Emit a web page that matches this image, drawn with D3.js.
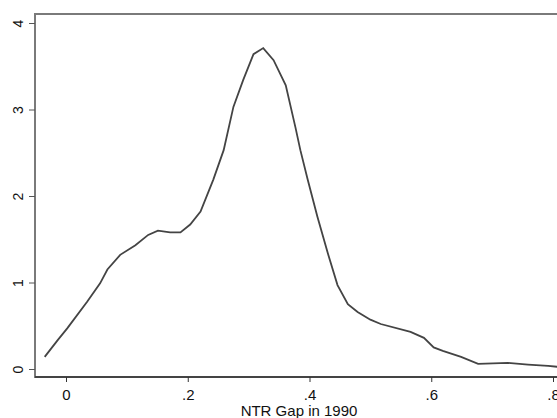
<!DOCTYPE html>
<html>
<head>
<meta charset="utf-8">
<script src="https://cdn.jsdelivr.net/npm/d3@7"></script>
<style>
  body { margin: 0; background: #fff; }
  text { font-family: "Liberation Sans", Arial, sans-serif; }
</style>
</head>
<body>
<script>
// Density of NTR gap
const gap = [-0.035, -0.013, 0.002, 0.035, 0.056, 0.068, 0.089, 0.114, 0.135, 0.151, 0.171, 0.188,
  0.204, 0.221, 0.242, 0.259, 0.275, 0.291, 0.308, 0.324, 0.341, 0.361, 0.377, 0.385, 0.397,
  0.413, 0.430, 0.446, 0.463, 0.479, 0.500, 0.517, 0.566, 0.588, 0.604, 0.619, 0.649, 0.677,
  0.726, 0.759, 0.792, 0.808];
const density = [0.14, 0.34, 0.47, 0.78, 0.99, 1.15, 1.32, 1.43, 1.55, 1.60, 1.58, 1.58,
  1.67, 1.82, 2.19, 2.53, 3.03, 3.34, 3.64, 3.71, 3.57, 3.28, 2.79, 2.53, 2.19,
  1.76, 1.34, 0.97, 0.75, 0.66, 0.57, 0.52, 0.43, 0.36, 0.25, 0.21, 0.14, 0.06,
  0.07, 0.05, 0.035, 0.025];
const xTicks = [0, 0.2, 0.4, 0.6, 0.8];
const xTickLabels = ["0", ".2", ".4", ".6", ".8"];
const yTicks = [0, 1, 2, 3, 4];

const W = 557, H = 418;
const svg = d3.select("body").append("svg")
    .attr("width", W)
    .attr("height", H);

const frame = { left: 35, top: 14, right: 566, bottom: 377 };

const x = d3.scaleLinear().domain([0, 0.8]).range([66, 553]);
const y = d3.scaleLinear().domain([0, 4]).range([369, 23]);

// plot region frame
svg.append("rect")
    .attr("x", frame.left)
    .attr("y", frame.top)
    .attr("width", frame.right - frame.left)
    .attr("height", frame.bottom - frame.top)
    .attr("fill", "none")
    .attr("stroke", "#7a7a7a")
    .attr("stroke-width", 2);

// x axis
const xAxis = svg.append("g")
    .attr("transform", "translate(0," + frame.bottom + ")")
    .call(d3.axisBottom(x).tickValues(xTicks)
        .tickFormat((d, i) => xTickLabels[i])
        .tickSize(5).tickPadding(7));
xAxis.select(".domain").attr("d", "M" + frame.left + ",0H" + frame.right)
    .attr("stroke", "#333").attr("stroke-width", 1.5);
xAxis.selectAll(".tick line").attr("stroke", "#333");
xAxis.selectAll(".tick text")
    .attr("font-size", "15px")
    .attr("fill", "#111")
    .attr("font-family", "Liberation Sans, Arial, sans-serif");

// y axis
const yAxis = svg.append("g")
    .attr("transform", "translate(" + frame.left + ",0)")
    .call(d3.axisLeft(y).tickValues(yTicks).tickFormat(d3.format("d"))
        .tickSize(6).tickPadding(4));
yAxis.select(".domain").remove();
yAxis.selectAll(".tick line").attr("stroke", "#555");
yAxis.selectAll(".tick text")
    .attr("font-size", "14px")
    .attr("fill", "#111")
    .attr("font-family", "Liberation Sans, Arial, sans-serif")
    .attr("text-anchor", "middle")
    .attr("x", 0)
    .attr("dy", 0)
    .attr("transform", "translate(-17,0) rotate(-90)")
    .attr("dominant-baseline", "central");

// axis title
svg.append("text")
    .attr("x", 299)
    .attr("y", 416)
    .attr("text-anchor", "middle")
    .attr("font-size", "15px")
    .attr("fill", "#111")
    .text("NTR Gap in 1990");

// density line
const pts = gap.map((g, i) => [g, density[i]]);
const line = d3.line()
    .x(d => x(d[0]))
    .y(d => y(d[1]));

svg.append("path")
    .datum(pts)
    .attr("d", line)
    .attr("fill", "none")
    .attr("stroke", "#444")
    .attr("stroke-width", 1.8);
</script>
</body>
</html>
